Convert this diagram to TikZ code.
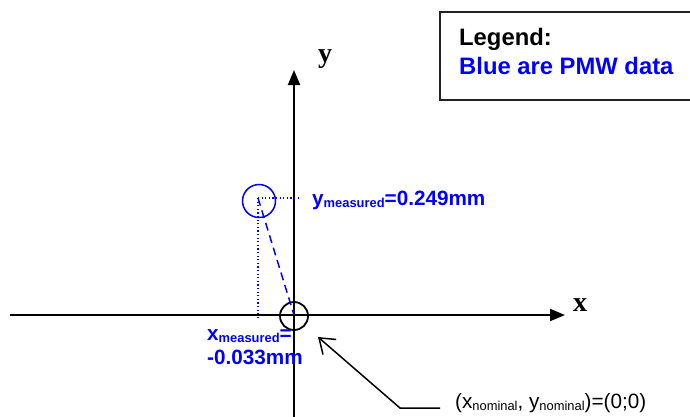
\documentclass[tikz,border=0pt]{standalone}
\usepackage{fontspec}
\setmainfont{Liberation Sans}
\newfontfamily\axisfont{Liberation Serif}
\usepackage{xcolor}
\definecolor{cPMW}{HTML}{0000FF}
\definecolor{cInk}{HTML}{000000}
\definecolor{cFrame}{HTML}{222222}
\usetikzlibrary{arrows.meta}
\newcommand{\subtxt}[1]{\raisebox{-0.25ex}{\fontsize{12.9}{14}\selectfont #1}}
\tikzset{
  axis-line/.style={line width=2pt,draw=cInk,-{Triangle[length=15pt,width=12pt]}},
  axis-label/.style={font=\axisfont\bfseries\fontsize{28}{30}\selectfont,inner sep=0pt},
  node-meas/.style={circle,draw=cPMW,line width=1.5pt,minimum size=33pt,inner sep=0pt},
  node-nom/.style={circle,draw=cInk,line width=1.8pt,minimum size=28pt,inner sep=0pt},
  label-pmw/.style={text=cPMW,inner sep=0pt,align=left,
    font=\bfseries\fontsize{20.7}{24}\selectfont},
  label-note/.style={text=cInk,inner sep=0pt,font=\fontsize{20.7}{24}\selectfont},
  legend-box/.style={draw=cFrame,line width=2pt,fill=white,minimum width=270pt,
    minimum height=88pt,inner sep=0pt},
  line-proj/.style={draw=cPMW,line width=1.2pt,dash pattern=on 1.2pt off 2.4pt},
  line-dev/.style={draw=cPMW,line width=1.5pt,dash pattern=on 8pt off 5pt},
  arrow-note/.style={draw=cInk,line width=1.5pt,-{Straight Barb[length=14pt,width=20pt]}},
}
\begin{document}
\begin{tikzpicture}[x=1pt,y=-1pt]
  \clip (0,0) rectangle (690,416);
  \fill[white] (0,0) rectangle (690,416);
  % axes
  \coordinate (orig) at (294,315);
  \coordinate (x-start) at (10,315);
  \coordinate (x-end) at (565,315);
  \coordinate (y-start) at (294,420);
  \coordinate (y-end) at (294,70);
  \draw[axis-line] (x-start) -- (x-end);
  \draw[axis-line] (y-start) -- (y-end);
  \node[axis-label,anchor=base] (xlab) at (580,311) {x};
  \node[axis-label,anchor=base] (ylab) at (325,62) {y};
  % nominal point
  \node[node-nom] (nom) at (294,316) {};
  % measured point
  \coordinate (meas) at (258,198);
  \node[node-meas] (meas-c) at (259,201) {};
  \coordinate (y-proj) at (298,198);
  \coordinate (x-proj) at (258,319);
  \draw[line-proj] (meas) -- (y-proj);
  \draw[line-proj] (meas) -- (x-proj);
  \draw[line-dev] (meas) -- (orig);
  \node[label-pmw,anchor=base west] (ymeas) at (312,205)
    {y\subtxt{measured}=0.249mm};
  \node[label-pmw,anchor=base west] (xmeas) at (207,340)
    {x\subtxt{measured}=};
  \node[label-pmw,anchor=base west] (xval) at (207,364) {-0.033mm};
  % callout
  \node[label-note,anchor=base west] (note) at (455,408)
    {(x\subtxt{nominal}, y\subtxt{nominal})=(0;0)};
  \coordinate (note-end) at (440,408);
  \coordinate (note-bend) at (400,408);
  \coordinate (note-tip) at (318,337);
  \draw[arrow-note] (note-end) -- (note-bend) -- (note-tip);
  % legend
  \node[legend-box,anchor=north west] (legend) at (439,11) {};
  \node[anchor=base west,inner sep=0pt,font=\bfseries\fontsize{23.8}{26}\selectfont]
    (leg-title) at (459,45) {Legend:};
  \node[anchor=base west,inner sep=0pt,text=cPMW,font=\bfseries\fontsize{23.8}{26}\selectfont]
    (leg-text) at (459,74) {Blue are PMW data};
\end{tikzpicture}
\end{document}
